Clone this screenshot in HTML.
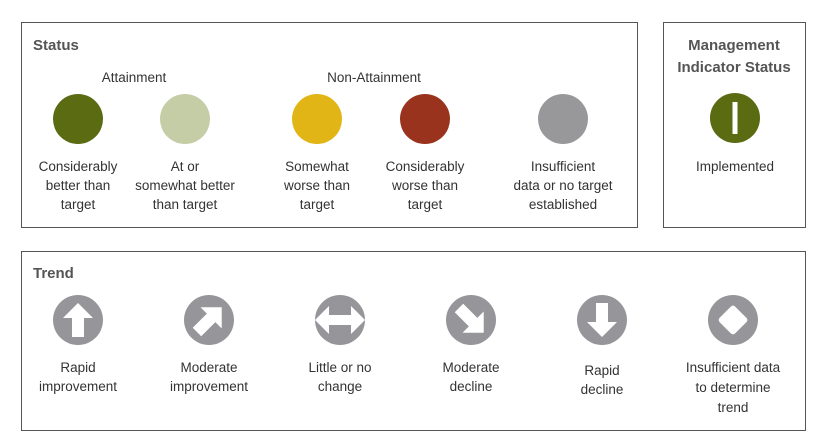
<!DOCTYPE html>
<html><head><meta charset="utf-8"><style>
html,body{margin:0;padding:0;background:#fff}
svg{display:block}
text{font-family:"Liberation Sans",sans-serif;font-size:13.5px;fill:#333;text-anchor:middle}
.t{font-weight:bold;font-size:15px;fill:#555;text-anchor:start}
.h{font-weight:bold;font-size:15px;fill:#555}
</style></head><body>
<svg width="828" height="447" viewBox="0 0 828 447">
<rect x="21.5" y="22.5" width="616" height="205" fill="none" stroke="#555"/>
<rect x="663.5" y="22.5" width="142" height="205" fill="none" stroke="#555"/>
<rect x="21.5" y="251.5" width="784" height="179" fill="none" stroke="#555"/>
<text class="t" x="33" y="50">Status</text>
<text x="134" y="82">Attainment</text>
<text x="374" y="82">Non-Attainment</text>
<circle cx="78" cy="119" r="25" fill="#5b6b12"/>
<circle cx="185" cy="119" r="25" fill="#c5cda7"/>
<circle cx="317" cy="119" r="25" fill="#e1b515"/>
<circle cx="425" cy="119" r="25" fill="#99331d"/>
<circle cx="563" cy="119" r="25" fill="#98989b"/>
<g>
<text x="78" y="171">Considerably</text><text x="78" y="190">better than</text><text x="78" y="209">target</text>
<text x="185" y="171">At or</text><text x="185" y="190">somewhat better</text><text x="185" y="209">than target</text>
<text x="317" y="171">Somewhat</text><text x="317" y="190">worse than</text><text x="317" y="209">target</text>
<text x="425" y="171">Considerably</text><text x="425" y="190">worse than</text><text x="425" y="209">target</text>
<text x="563" y="171">Insufficient</text><text x="563" y="190">data or no target</text><text x="563" y="209">established</text>
</g>
<text class="h" x="734" y="50">Management</text>
<text class="h" x="734" y="72">Indicator Status</text>
<circle cx="735" cy="118" r="25" fill="#5b6b12"/>
<rect x="732.5" y="102" width="5" height="32" fill="#fff"/>
<text x="735" y="171">Implemented</text>
<text class="t" x="33" y="278">Trend</text>
<g fill="#96969a">
<g transform="translate(78,320)"><circle r="25" fill="#96969a"/><polygon fill="#fff" points="0,-17 15,-2 6,-2 6,17 -6,17 -6,-2 -15,-2"/></g>
<g transform="translate(209,320)"><circle r="25" fill="#96969a"/><polygon transform="rotate(45)" fill="#fff" points="0,-18 15,-3 6,-3 6,17 -6,17 -6,-3 -15,-3"/></g>
<g transform="translate(340,320)"><circle r="25" fill="#96969a"/><polygon fill="#fff" points="-25,0 -11,-14 -11,-5 11,-5 11,-14 25,0 11,14 11,5 -11,5 -11,14"/></g>
<g transform="translate(471,320)"><circle r="25" fill="#96969a"/><polygon transform="rotate(135)" fill="#fff" points="0,-18 15,-3 6,-3 6,17 -6,17 -6,-3 -15,-3"/></g>
<g transform="translate(602,320)"><circle r="25" fill="#96969a"/><polygon transform="rotate(180)" fill="#fff" points="0,-17 15,-2 6,-2 6,17 -6,17 -6,-2 -15,-2"/></g>
<g transform="translate(733,320)"><circle r="25" fill="#96969a"/><rect x="-11" y="-11" width="22" height="22" rx="3" transform="rotate(45)" fill="#fff"/></g>
</g>
<g>
<text x="78" y="372">Rapid</text><text x="78" y="391">improvement</text>
<text x="209" y="372">Moderate</text><text x="209" y="391">improvement</text>
<text x="340" y="372">Little or no</text><text x="340" y="391">change</text>
<text x="471" y="372">Moderate</text><text x="471" y="391">decline</text>
<text x="602" y="375">Rapid</text><text x="602" y="394">decline</text>
<text x="733" y="372">Insufficient data</text><text x="733" y="392">to determine</text><text x="733" y="412">trend</text>
</g>
</svg>
</body></html>
